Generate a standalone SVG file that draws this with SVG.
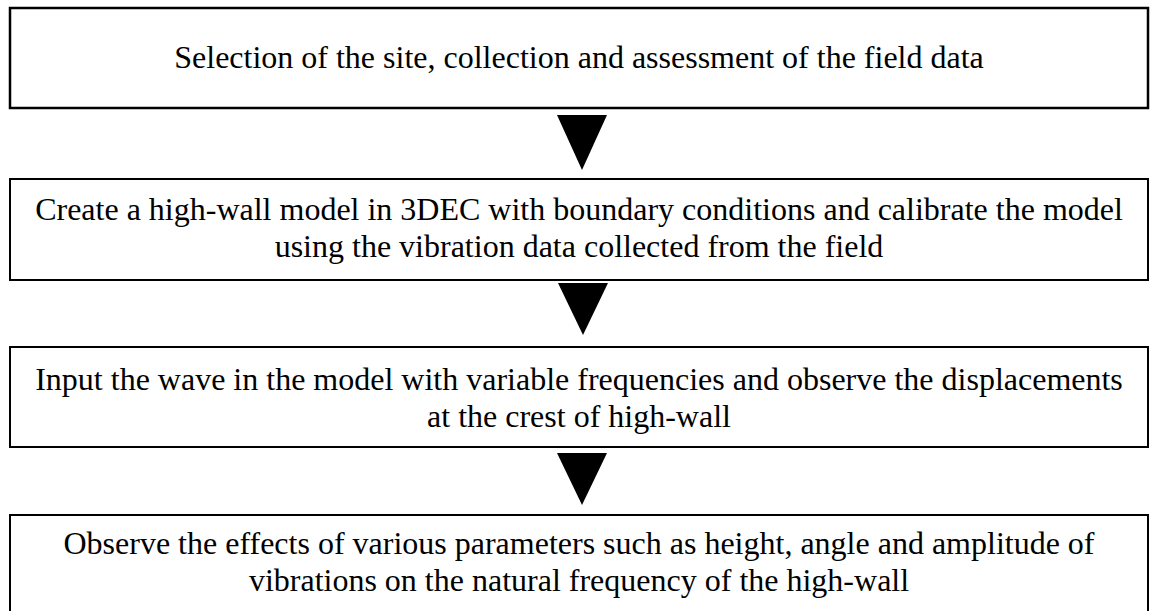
<svg xmlns="http://www.w3.org/2000/svg" width="1151" height="611" viewBox="0 0 1151 611">
<style>
.box{fill:#fff;stroke:#000;stroke-width:2}
.t{font-family:"Liberation Serif","Times New Roman",serif;font-size:32px;fill:#000;text-anchor:middle}
.arr{fill:#000;stroke:none}
</style>
<rect x="0" y="0" width="1151" height="611" fill="#fff"/>
<g id="node1">
<rect class="box" x="10" y="8" width="1138" height="100" style="stroke-width:2.5"/>
<text class="t" x="579" y="68">Selection of the site, collection and assessment of the field data</text>
</g>
<g id="node2">
<rect class="box" x="10" y="179" width="1138" height="101"/>
<text class="t" x="579" y="220">Create a high-wall model in 3DEC with boundary conditions and calibrate the model</text>
<text class="t" x="579" y="257">using the vibration data collected from the field</text>
</g>
<g id="node3">
<rect class="box" x="10" y="347" width="1138" height="100"/>
<text class="t" x="579" y="390">Input the wave in the model with variable frequencies and observe the displacements</text>
<text class="t" x="579" y="427">at the crest of high-wall</text>
</g>
<g id="node4">
<rect class="box" x="10" y="515" width="1138" height="110"/>
<text class="t" x="579" y="554">Observe the effects of various parameters such as height, angle and amplitude of</text>
<text class="t" x="579" y="591">vibrations on the natural frequency of the high-wall</text>
</g>
<g id="connectors">
<polygon class="arr" points="557,115 607,115 582,170"/>
<polygon class="arr" points="558,283 608,283 583,335"/>
<polygon class="arr" points="557,453 607,453 582,505"/>
</g>
</svg>
